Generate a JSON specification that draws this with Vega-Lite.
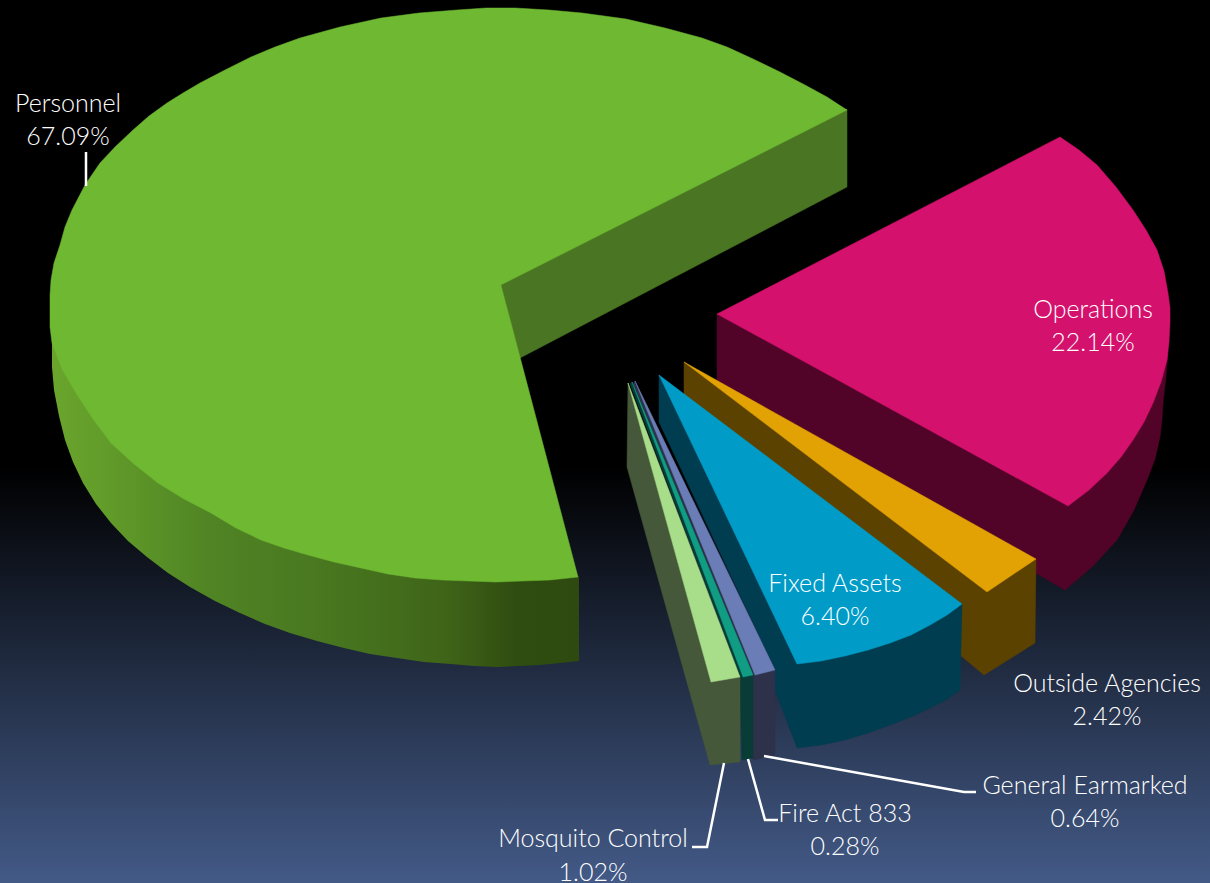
{"$schema":"https://vega.github.io/schema/vega-lite/v6.json","width":1210,"height":883,"autosize":{"type":"none"},"padding":0,"background":"#435a87","config":{"view":{"stroke":null}},
"datasets":{
"bg":[{"x":0,"x2":1210,"y":0,"y2":883}],
"side":[{"s":1,"x":51,"y":280},{"s":2,"x":52,"y":343},{"s":3,"x":52,"y":367},{"s":4,"x":54,"y":390},{"s":5,"x":59,"y":416},{"s":6,"x":65,"y":440},{"s":7,"x":73,"y":462},{"s":8,"x":83,"y":483},{"s":9,"x":96,"y":504},{"s":10,"x":111,"y":523},{"s":11,"x":128,"y":541},{"s":12,"x":147,"y":557},{"s":13,"x":168,"y":573},{"s":14,"x":190,"y":587},{"s":15,"x":215,"y":601},{"s":16,"x":240,"y":613},{"s":17,"x":265,"y":624},{"s":18,"x":290,"y":633},{"s":19,"x":317,"y":641},{"s":20,"x":344,"y":648},{"s":21,"x":370,"y":654},{"s":22,"x":397,"y":658},{"s":23,"x":424,"y":662},{"s":24,"x":451,"y":664},{"s":25,"x":474,"y":666},{"s":26,"x":497,"y":667},{"s":27,"x":519,"y":666},{"s":28,"x":540,"y":665},{"s":29,"x":560,"y":663},{"s":30,"x":579,"y":661},{"s":31,"x":579,"y":577},{"s":32,"x":300,"y":400},{"s":33,"x":51,"y":280}],
"parts":[
{"p":"a","s":1,"x":501,"y":285},{"p":"a","s":2,"x":847,"y":109},{"p":"a","s":3,"x":847,"y":187},{"p":"a","s":4,"x":520,"y":358},{"p":"a","s":5,"x":501,"y":285},
{"p":"b","s":1,"x":501,"y":285},{"p":"b","s":2,"x":847,"y":110},{"p":"b","s":3,"x":827,"y":97},{"p":"b","s":4,"x":805,"y":85},{"p":"b","s":5,"x":778,"y":71},{"p":"b","s":6,"x":751,"y":58},{"p":"b","s":7,"x":727,"y":47},{"p":"b","s":8,"x":702,"y":38},{"p":"b","s":9,"x":665,"y":28},{"p":"b","s":10,"x":626,"y":19},{"p":"b","s":11,"x":604,"y":16},{"p":"b","s":12,"x":582,"y":13},{"p":"b","s":13,"x":549,"y":10},{"p":"b","s":14,"x":515,"y":8},{"p":"b","s":15,"x":486,"y":8},{"p":"b","s":16,"x":457,"y":10},{"p":"b","s":17,"x":419,"y":13},{"p":"b","s":18,"x":381,"y":18},{"p":"b","s":19,"x":340,"y":27},{"p":"b","s":20,"x":300,"y":38},{"p":"b","s":21,"x":275,"y":47},{"p":"b","s":22,"x":251,"y":57},{"p":"b","s":23,"x":225,"y":70},{"p":"b","s":24,"x":200,"y":83},{"p":"b","s":25,"x":183,"y":93},{"p":"b","s":26,"x":167,"y":103},{"p":"b","s":27,"x":149,"y":116},{"p":"b","s":28,"x":133,"y":130},{"p":"b","s":29,"x":115,"y":147},{"p":"b","s":30,"x":100,"y":163},{"p":"b","s":31,"x":85,"y":185},{"p":"b","s":32,"x":72,"y":210},{"p":"b","s":33,"x":65,"y":227},{"p":"b","s":34,"x":60,"y":245},{"p":"b","s":35,"x":54,"y":263},{"p":"b","s":36,"x":51,"y":280},{"p":"b","s":37,"x":50,"y":295},{"p":"b","s":38,"x":50,"y":310},{"p":"b","s":39,"x":50,"y":327},{"p":"b","s":40,"x":52,"y":343},{"p":"b","s":41,"x":62,"y":369},{"p":"b","s":42,"x":76,"y":393},{"p":"b","s":43,"x":93,"y":419},{"p":"b","s":44,"x":111,"y":443},{"p":"b","s":45,"x":134,"y":464},{"p":"b","s":46,"x":158,"y":483},{"p":"b","s":47,"x":184,"y":499},{"p":"b","s":48,"x":211,"y":513},{"p":"b","s":49,"x":236,"y":528},{"p":"b","s":50,"x":261,"y":540},{"p":"b","s":51,"x":284,"y":548},{"p":"b","s":52,"x":308,"y":555},{"p":"b","s":53,"x":334,"y":562},{"p":"b","s":54,"x":361,"y":568},{"p":"b","s":55,"x":388,"y":574},{"p":"b","s":56,"x":415,"y":578},{"p":"b","s":57,"x":442,"y":580},{"p":"b","s":58,"x":469,"y":581},{"p":"b","s":59,"x":496,"y":582},{"p":"b","s":60,"x":522,"y":581},{"p":"b","s":61,"x":550,"y":580},{"p":"b","s":62,"x":578,"y":577},{"p":"b","s":63,"x":501,"y":285},
{"p":"c","s":1,"x":717,"y":314},{"p":"c","s":2,"x":1068,"y":506},{"p":"c","s":3,"x":1168,"y":350},{"p":"c","s":4,"x":1166,"y":377},{"p":"c","s":5,"x":1163,"y":403},{"p":"c","s":6,"x":1162,"y":420},{"p":"c","s":7,"x":1160,"y":437},{"p":"c","s":8,"x":1155,"y":459},{"p":"c","s":9,"x":1147,"y":480},{"p":"c","s":10,"x":1134,"y":510},{"p":"c","s":11,"x":1117,"y":540},{"p":"c","s":12,"x":1093,"y":566},{"p":"c","s":13,"x":1065,"y":590},{"p":"c","s":14,"x":717,"y":388},{"p":"c","s":15,"x":717,"y":314},
{"p":"d","s":1,"x":717,"y":314},{"p":"d","s":2,"x":1060,"y":137},{"p":"d","s":3,"x":1079,"y":150},{"p":"d","s":4,"x":1097,"y":165},{"p":"d","s":5,"x":1116,"y":187},{"p":"d","s":6,"x":1133,"y":210},{"p":"d","s":7,"x":1146,"y":230},{"p":"d","s":8,"x":1157,"y":250},{"p":"d","s":9,"x":1164,"y":271},{"p":"d","s":10,"x":1168,"y":293},{"p":"d","s":11,"x":1170,"y":308},{"p":"d","s":12,"x":1170,"y":323},{"p":"d","s":13,"x":1169,"y":342},{"p":"d","s":14,"x":1167,"y":360},{"p":"d","s":15,"x":1161,"y":382},{"p":"d","s":16,"x":1153,"y":403},{"p":"d","s":17,"x":1144,"y":422},{"p":"d","s":18,"x":1133,"y":440},{"p":"d","s":19,"x":1121,"y":457},{"p":"d","s":20,"x":1107,"y":473},{"p":"d","s":21,"x":1089,"y":490},{"p":"d","s":22,"x":1068,"y":506},{"p":"d","s":23,"x":717,"y":314},
{"p":"e","s":1,"x":684,"y":362},{"p":"e","s":2,"x":987,"y":592},{"p":"e","s":3,"x":1036,"y":559},{"p":"e","s":4,"x":1035,"y":643},{"p":"e","s":5,"x":984,"y":675},{"p":"e","s":6,"x":960,"y":655},{"p":"e","s":7,"x":960,"y":612},{"p":"e","s":8,"x":684,"y":402},{"p":"e","s":9,"x":684,"y":362},
{"p":"f","s":1,"x":684,"y":362},{"p":"f","s":2,"x":1036,"y":559},{"p":"f","s":3,"x":987,"y":592},{"p":"f","s":4,"x":684,"y":362},
{"p":"g","s":1,"x":659,"y":375},{"p":"g","s":2,"x":797,"y":664},{"p":"g","s":3,"x":962,"y":604},{"p":"g","s":4,"x":960,"y":690},{"p":"g","s":5,"x":946,"y":700},{"p":"g","s":6,"x":930,"y":708},{"p":"g","s":7,"x":911,"y":717},{"p":"g","s":8,"x":890,"y":725},{"p":"g","s":9,"x":868,"y":733},{"p":"g","s":10,"x":845,"y":740},{"p":"g","s":11,"x":821,"y":745},{"p":"g","s":12,"x":797,"y":748},{"p":"g","s":13,"x":775,"y":690},{"p":"g","s":14,"x":775,"y":670},{"p":"g","s":15,"x":659,"y":422},{"p":"g","s":16,"x":659,"y":375},
{"p":"h","s":1,"x":659,"y":375},{"p":"h","s":2,"x":962,"y":604},{"p":"h","s":3,"x":947,"y":615},{"p":"h","s":4,"x":930,"y":625},{"p":"h","s":5,"x":911,"y":635},{"p":"h","s":6,"x":890,"y":643},{"p":"h","s":7,"x":868,"y":650},{"p":"h","s":8,"x":845,"y":656},{"p":"h","s":9,"x":821,"y":661},{"p":"h","s":10,"x":797,"y":664},{"p":"h","s":11,"x":659,"y":375},
{"p":"i","s":1,"x":635,"y":381},{"p":"i","s":2,"x":775,"y":670},{"p":"i","s":3,"x":775,"y":755},{"p":"i","s":4,"x":753,"y":760},{"p":"i","s":5,"x":753,"y":675},{"p":"i","s":6,"x":633,"y":384},{"p":"i","s":7,"x":635,"y":381},
{"p":"j","s":1,"x":635,"y":381},{"p":"j","s":2,"x":775,"y":670},{"p":"j","s":3,"x":755,"y":675},{"p":"j","s":4,"x":635,"y":381},
{"p":"k","s":1,"x":632,"y":382},{"p":"k","s":2,"x":753,"y":675},{"p":"k","s":3,"x":753,"y":758},{"p":"k","s":4,"x":742,"y":760},{"p":"k","s":5,"x":740,"y":677},{"p":"k","s":6,"x":630,"y":384},{"p":"k","s":7,"x":632,"y":382},
{"p":"l","s":1,"x":632,"y":382},{"p":"l","s":2,"x":753,"y":675},{"p":"l","s":3,"x":743,"y":677},{"p":"l","s":4,"x":632,"y":382},
{"p":"m","s":1,"x":628,"y":383},{"p":"m","s":2,"x":711,"y":682},{"p":"m","s":3,"x":740,"y":677},{"p":"m","s":4,"x":740,"y":762},{"p":"m","s":5,"x":710,"y":765},{"p":"m","s":6,"x":627,"y":467},{"p":"m","s":7,"x":628,"y":383},
{"p":"n","s":1,"x":628,"y":383},{"p":"n","s":2,"x":740,"y":677},{"p":"n","s":3,"x":711,"y":682},{"p":"n","s":4,"x":628,"y":383}
],
"leaders":[
{"l":"Personnel","s":1,"x":86,"y":152},{"l":"Personnel","s":2,"x":86,"y":186},
{"l":"Mosquito","s":1,"x":724,"y":763},{"l":"Mosquito","s":2,"x":707,"y":847},{"l":"Mosquito","s":3,"x":692,"y":847},
{"l":"Fire","s":1,"x":748,"y":759},{"l":"Fire","s":2,"x":765,"y":820},{"l":"Fire","s":3,"x":778,"y":820},
{"l":"General","s":1,"x":764,"y":756},{"l":"General","s":2,"x":964,"y":792},{"l":"General","s":3,"x":976,"y":792}
],
"labels":[
{"t":"Personnel","x":68,"y":104},{"t":"67.09%","x":68,"y":137},
{"t":"Operations","x":1093,"y":310},{"t":"22.14%","x":1093,"y":343},
{"t":"Fixed Assets","x":835,"y":584},{"t":"6.40%","x":835,"y":617},
{"t":"Outside Agencies","x":1107,"y":684},{"t":"2.42%","x":1107,"y":717},
{"t":"General Earmarked","x":1085,"y":786},{"t":"0.64%","x":1085,"y":819},
{"t":"Fire Act 833","x":845,"y":814},{"t":"0.28%","x":845,"y":847},
{"t":"Mosquito Control","x":593,"y":839},{"t":"1.02%","x":593,"y":873}
]},
"layer":[
{"data":{"name":"bg"},"mark":{"type":"rect","fill":{"gradient":"linear","x1":0,"y1":0,"x2":0,"y2":1,"stops":[{"offset":0,"color":"#000000"},{"offset":0.53,"color":"#000000"},{"offset":1,"color":"#435a87"}]}},
"encoding":{"x":{"field":"x","type":"quantitative","scale":{"domain":[0,1210],"nice":false,"zero":false},"axis":null},"x2":{"field":"x2"},"y":{"field":"y","type":"quantitative","scale":{"domain":[0,883],"reverse":true,"nice":false,"zero":false},"axis":null},"y2":{"field":"y2"}}},
{"data":{"name":"side"},"mark":{"type":"line","strokeWidth":0,"fill":{"gradient":"linear","x1":0,"y1":0,"x2":1,"y2":0,"stops":[{"offset":0,"color":"#6aa52d"},{"offset":0.1,"color":"#629c2a"},{"offset":0.3,"color":"#508424"},{"offset":0.55,"color":"#47751f"},{"offset":0.75,"color":"#3f6418"},{"offset":0.88,"color":"#2f4d10"},{"offset":1,"color":"#2e4a10"}]}},
"encoding":{"x":{"field":"x","type":"quantitative","axis":null},"y":{"field":"y","type":"quantitative","axis":null},"order":{"field":"s","type":"quantitative"}}},
{"data":{"name":"parts"},"mark":{"type":"line","strokeWidth":0.5},
"encoding":{"x":{"field":"x","type":"quantitative","axis":null},"y":{"field":"y","type":"quantitative","axis":null},"order":{"field":"s","type":"quantitative"},
"fill":{"field":"p","type":"nominal","legend":null,"scale":{"domain":["a","b","c","d","e","f","g","h","i","j","k","l","m","n"],"range":["#4a7522","#6fb832","#520428","#d4116d","#5c4200","#e3a204","#003d50","#009cc7","#2d3149","#6a7db6","#093b37","#109d84","#46583a","#a8dd8a"]}},
"stroke":{"field":"p","type":"nominal","legend":null,"scale":{"domain":["a","b","c","d","e","f","g","h","i","j","k","l","m","n"],"range":["#4a7522","#6fb832","#520428","#d4116d","#5c4200","#e3a204","#003d50","#009cc7","#2d3149","#6a7db6","#093b37","#109d84","#46583a","#a8dd8a"]}}}},
{"data":{"name":"leaders"},"mark":{"type":"line","stroke":"#ffffff","strokeWidth":2.5},
"encoding":{"x":{"field":"x","type":"quantitative","axis":null},"y":{"field":"y","type":"quantitative","axis":null},"order":{"field":"s","type":"quantitative"},"detail":{"field":"l"}}},
{"data":{"name":"labels"},"mark":{"type":"text","font":"Lato","fontSize":25,"fontWeight":300,"fill":"#ffffff","align":"center","baseline":"middle"},
"encoding":{"x":{"field":"x","type":"quantitative","axis":null},"y":{"field":"y","type":"quantitative","axis":null},"text":{"field":"t"}}}
]}
